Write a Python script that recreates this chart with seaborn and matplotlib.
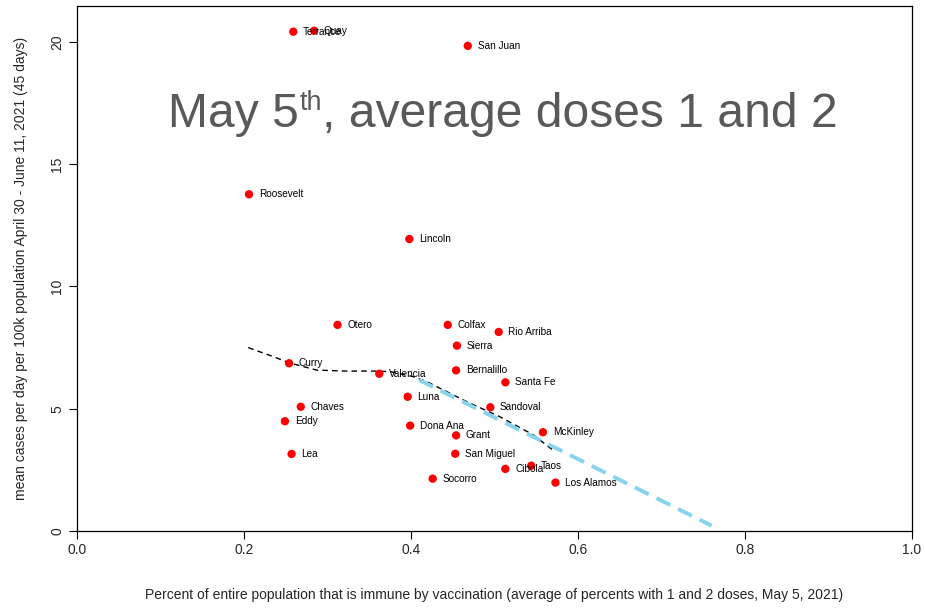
import matplotlib
matplotlib.use("Agg")
import matplotlib.pyplot as plt
import seaborn as sns
import pandas as pd

# County-level data: vaccination share vs. mean daily cases per 100k
counties = ["Terrance", "Quay", "San Juan", "Roosevelt", "Lincoln", "Otero",
            "Colfax", "Rio Arriba", "Sierra", "Curry", "Valencia", "Bernalillo",
            "Santa Fe", "Luna", "Sandoval", "Chaves", "Eddy", "Dona Ana",
            "McKinley", "Grant", "Lea", "San Miguel", "Taos", "Cibola",
            "Socorro", "Los Alamos"]
immune_pct = [0.259, 0.284, 0.468, 0.206, 0.398, 0.312,
              0.444, 0.505, 0.455, 0.254, 0.362, 0.454,
              0.513, 0.396, 0.495, 0.268, 0.249, 0.399,
              0.558, 0.454, 0.257, 0.453, 0.544, 0.513,
              0.426, 0.573]
cases_per_100k = [20.42, 20.46, 19.84, 13.77, 11.94, 8.43,
                  8.43, 8.14, 7.58, 6.86, 6.43, 6.57,
                  6.08, 5.49, 5.06, 5.08, 4.49, 4.31,
                  4.04, 3.91, 3.15, 3.16, 2.67, 2.54,
                  2.14, 1.98]

# Smoothed trend (black dashed)
smooth_x = [0.2051, 0.2351, 0.2539, 0.2871, 0.3230, 0.3549, 0.3749,
            0.4028, 0.4188, 0.4667, 0.5066, 0.5465, 0.5725]
smooth_y = [7.50, 7.13, 6.88, 6.58, 6.54, 6.54, 6.52,
            6.31, 6.11, 5.29, 4.67, 3.93, 3.24]

# Linear trend extended to higher coverage (light blue dashed)
linear_x = [0.4096, 0.760]
linear_y = [6.18, 0.22]

x_ticks = [0.0, 0.2, 0.4, 0.6, 0.8, 1.0]
y_ticks = [0, 5, 10, 15, 20]

sns.set_style("white")
plt.rcParams["font.family"] = ["Liberation Sans", "DejaVu Sans"]

fig = plt.figure(figsize=(9.25, 6.09), dpi=100)
W, H = 925, 609
ax = fig.add_axes([77 / W, 1 - 531 / H, (912 - 77) / W, (531 - 6) / H])

df = pd.DataFrame({"x": immune_pct, "y": cases_per_100k, "county": counties})
sns.scatterplot(data=df, x="x", y="y", ax=ax, color="#ff0000", s=36,
                edgecolor="none", zorder=3)

sm = pd.DataFrame({"x": smooth_x, "y": smooth_y})
sns.lineplot(data=sm, x="x", y="y", ax=ax, color="black", lw=1.0,
             linestyle=(0, (4, 3)), zorder=2)
ln = pd.DataFrame({"x": linear_x, "y": linear_y})
sns.lineplot(data=ln, x="x", y="y", ax=ax, color="#87d3ee", lw=2.8,
             linestyle=(0, (4, 2.2)), zorder=2)

for xi, yi, name in zip(immune_pct, cases_per_100k, counties):
    ax.annotate(name, (xi, yi), xytext=(7, 0), textcoords="offset points",
                ha="left", va="center", fontsize=7.2, color="black", zorder=4)

ax.set_xlim(0, 1.0)
ax.set_ylim(0, 21.47)
ax.set_xticks(x_ticks)
ax.set_xticklabels([f"{t:.1f}" for t in x_ticks], fontsize=10)
ax.set_yticks(y_ticks)
ax.set_yticklabels([str(t) for t in y_ticks], fontsize=10, rotation=90,
                   va="center")
ax.tick_params(axis="both", direction="out", length=6, width=0.8,
               color="black", pad=3, bottom=True, left=True)
for sp in ax.spines.values():
    sp.set_visible(True)
    sp.set_color("black")
    sp.set_linewidth(0.9)

ax.set_xlabel("Percent of entire population that is immune by vaccination "
              "(average of percents with 1 and 2 doses, May 5, 2021)",
              fontsize=10, labelpad=22)
ax.set_ylabel("mean cases per day per 100k population April 30 - June 11, 2021 (45 days)",
              fontsize=10, labelpad=16)

# Overlay heading built from pieces so the ordinal suffix sits as a superscript
title_color = "#595959"
title_size = 34.6
base_x, base_y = 168 / W, 1 - 127 / H
renderer = fig.canvas.get_renderer()
t1 = fig.text(base_x, base_y, "May 5", fontsize=title_size, color=title_color,
              ha="left", va="baseline")
bb1 = t1.get_window_extent(renderer)
sup_x = bb1.x1 / W + 1 / W
t2 = fig.text(sup_x, base_y + 17 / H, "th", fontsize=title_size * 0.56,
              color=title_color, ha="left", va="baseline")
bb2 = t2.get_window_extent(renderer)
fig.text(bb2.x1 / W, base_y, ", average doses 1 and 2", fontsize=title_size,
         color=title_color, ha="left", va="baseline")

fig.savefig("out.png", dpi=100, facecolor="white")
